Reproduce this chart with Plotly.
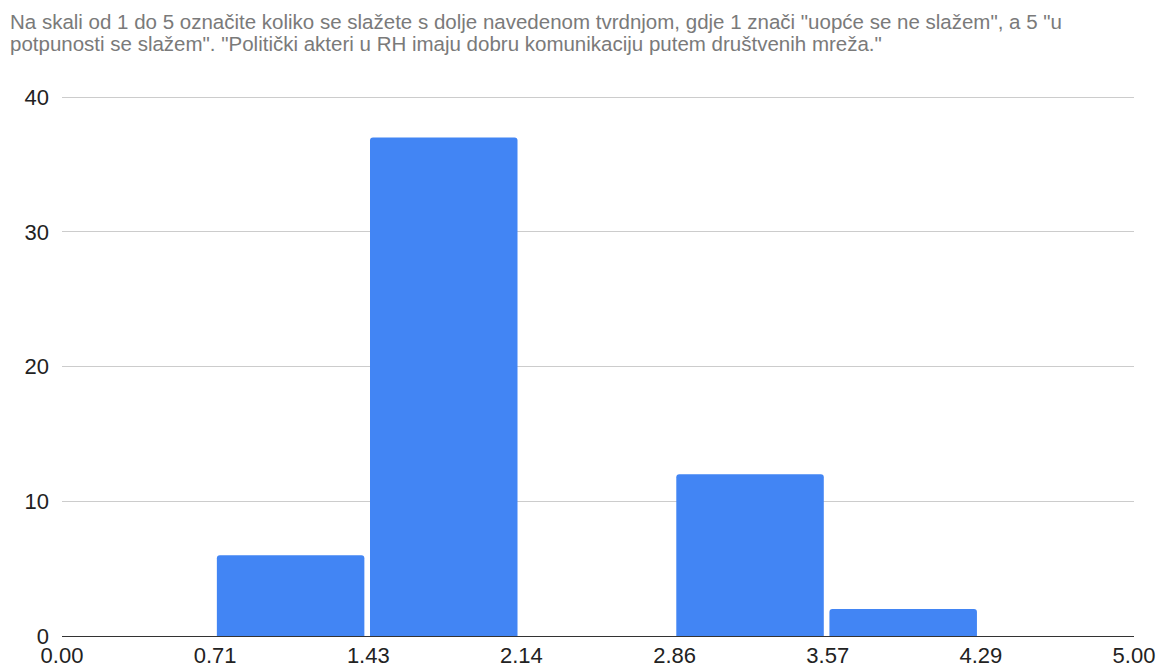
import plotly.graph_objects as go

title_line1 = 'Na skali od 1 do 5 označite koliko se slažete s dolje navedenom tvrdnjom, gdje 1 znači "uopće se ne slažem", a 5 "u'
title_line2 = 'potpunosti se slažem". "Politički akteri u RH imaju dobru komunikaciju putem društvenih mreža."'

bin_starts = [0.0, 5/7, 10/7, 15/7, 20/7, 25/7, 30/7]
counts = [0, 6, 37, 0, 12, 2, 0]
x_tick_vals = [0.0, 5/7, 10/7, 15/7, 20/7, 25/7, 30/7, 5.0]
x_tick_text = ["0.00", "0.71", "1.43", "2.14", "2.86", "3.57", "4.29", "5.00"]
y_tick_vals = [0, 10, 20, 30, 40]

FONT = "Liberation Sans, Arial, sans-serif"

# page body has an 8px margin, so the figure is drawn 8px in from the window corner
W, H = 1160, 664
L, R, T, B = 54, 34, 88, 36

fig = go.Figure()
fig.add_trace(go.Bar(
    x=bin_starts, y=counts,
    offset=0.008, width=0.688,
    marker=dict(color="#4285F4", cornerradius=3, line=dict(width=0)),
    hoverinfo="skip",
))

for txt, yc in [(title_line1, 13), (title_line2, 36)]:
    fig.add_annotation(
        text=txt, xref="paper", yref="paper",
        x=(0 - L) / (W - L - R), xanchor="left",
        y=1 + (T - yc) / (H - T - B), yanchor="middle",
        showarrow=False,
        font=dict(family=FONT, size=20.5, color="#7a7a7a"),
    )

fig.update_layout(
    width=W, height=H,
    paper_bgcolor="white", plot_bgcolor="white",
    margin=dict(l=L, r=R, t=T, b=B, autoexpand=False),
    showlegend=False,
    font=dict(family=FONT, color="#222222"),
    xaxis=dict(
        range=[0, 5], automargin=False,
        tickmode="array", tickvals=x_tick_vals, ticktext=x_tick_text,
        showgrid=False, zeroline=False,
        showline=True, linecolor="#333333", linewidth=1,
        ticks="", tickfont=dict(size=22, color="#222222"),
        fixedrange=True,
    ),
    yaxis=dict(
        range=[0, 40.08], automargin=False,
        tickmode="array", tickvals=y_tick_vals,
        showgrid=True, gridcolor="#cccccc", gridwidth=1,
        zeroline=False, showline=False,
        ticks="", ticklabelstandoff=12,
        tickfont=dict(size=22, color="#222222"),
        fixedrange=True,
    ),
)

fig.write_html("out.html")
